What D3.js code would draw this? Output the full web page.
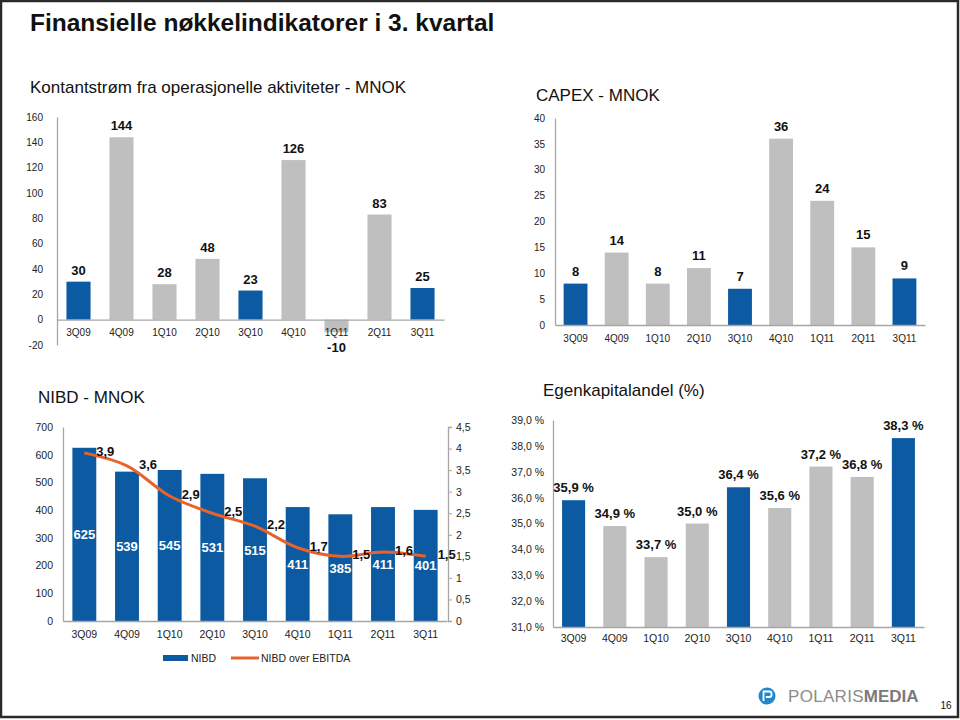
<!DOCTYPE html>
<html><head><meta charset="utf-8">
<script src="https://cdn.jsdelivr.net/npm/d3@7"></script>
<style>
html,body{margin:0;padding:0;background:#fff;}
svg{display:block;font-family:"Liberation Sans",Arial,sans-serif;}
</style></head>
<body>
<svg id="c" width="960" height="720"></svg>
<script>
// ---------- DATA ----------
const quarters = ["3Q09","4Q09","1Q10","2Q10","3Q10","4Q10","1Q11","2Q11","3Q11"];
const highlight = ["3Q09","3Q10","3Q11"];
const cashflow = [30,144,28,48,23,126,-10,83,25];
const cashflowTicks = [-20,0,20,40,60,80,100,120,140,160];
const capex = [8,14,8,11,7,36,24,15,9];
const capexTicks = [0,5,10,15,20,25,30,35,40];
const nibd = [625,539,545,531,515,411,385,411,401];
const nibdTicks = [0,100,200,300,400,500,600,700];
const nibdEbitda = [3.9,3.6,2.9,2.5,2.2,1.7,1.5,1.6,1.5];
const ratioTicks = [0,0.5,1,1.5,2,2.5,3,3.5,4,4.5];
const equityRatio = [35.9,34.9,33.7,35.0,36.4,35.6,37.2,36.8,38.3];
const equityTicks = [31,32,33,34,35,36,37,38,39];

// ---------- STYLE ----------
const BLUE = "#0B5AA2", GRAY = "#BFBFBF", AXIS = "#A6A6A6", ORANGE = "#E8622C";
const svg = d3.select("#c");
const comma = d => String(d).replace(".", ",");
const fmt1 = d => d3.format(".1f")(d).replace(".", ",");

// page frame
svg.append("rect").attr("x",1).attr("y",1).attr("width",957).attr("height",716)
  .attr("fill","none").attr("stroke","#2a2a2a").attr("stroke-width",2.5);

// main title
svg.append("text").attr("x",30).attr("y",31).attr("font-size",24.5).attr("font-weight","bold")
  .attr("fill","#111").text("Finansielle nøkkelindikatorer i 3. kvartal");

function title(x, y, t, size) {
  svg.append("text").attr("x",x).attr("y",y).attr("font-size",size||17).attr("fill","#111").text(t);
}
title(30, 93, "Kontantstrøm fra operasjonelle aktiviteter - MNOK", 17);
title(536, 101, "CAPEX - MNOK", 17);
title(38, 403, "NIBD - MNOK", 17);
title(543, 396, "Egenkapitalandel (%)", 17);

function barChart(o) {
  const g = svg.append("g");
  const x = d3.scaleBand().domain(quarters).range([o.x0, o.x1])
    .paddingInner(o.pad).paddingOuter(o.pad/2);
  const y = d3.scaleLinear().domain(o.domain).range([o.yb, o.yt]);
  const base = y(o.base);
  const color = o.color || ((d,i)=>highlight.includes(quarters[i])?BLUE:GRAY);
  // y axis
  const ya = d3.axisLeft(y).tickValues(o.ticks).tickSize(0).tickPadding(o.tickPad).tickFormat(o.tickFmt);
  const yg = g.append("g").attr("transform",`translate(${o.x0},0)`).call(ya);
  yg.select(".domain").attr("stroke",AXIS).attr("stroke-width",1.3);
  yg.selectAll("text").attr("font-size",o.tickSize).attr("fill","#222").attr("font-family","Liberation Sans, Arial");
  // bars
  g.selectAll("rect.bar").data(o.values).join("rect").attr("class","bar")
    .attr("x",(d,i)=>x(quarters[i])).attr("width",x.bandwidth())
    .attr("y",d=>Math.min(y(d),base)).attr("height",d=>Math.abs(y(d)-base))
    .attr("fill",color);
  // x axis
  const xa = d3.axisBottom(x).tickSize(0).tickPadding(0);
  const xg = g.append("g").attr("transform",`translate(0,${base})`).call(xa);
  xg.select(".domain").attr("stroke",AXIS).attr("stroke-width",1.3);
  xg.selectAll("text").attr("dy",null).attr("y",o.catDy).attr("font-size",o.catSize).attr("fill","#222")
    .attr("font-family","Liberation Sans, Arial");
  // labels
  if (o.labels) {
    g.selectAll("text.val").data(o.values).join("text").attr("class","val")
      .attr("x",(d,i)=>x(quarters[i])+x.bandwidth()/2)
      .attr("y",d=> d>=o.base ? y(d)-o.labOff : y(d)+20)
      .attr("text-anchor","middle").attr("font-size",13).attr("font-weight","bold").attr("fill","#111")
      .text(o.labFmt);
  }
  return {g,x,y,base};
}

// Chart 1: cash flow
barChart({x0:57,x1:444,yt:117,yb:345,domain:[-20,160],base:0,values:cashflow,ticks:cashflowTicks,
  pad:0.44,tickPad:14,tickFmt:d=>d,tickSize:10,catDy:16,catSize:10,labels:true,labOff:7,labFmt:d=>d});

// Chart 2: capex
barChart({x0:555,x1:925,yt:118,yb:325,domain:[0,40],base:0,values:capex,ticks:capexTicks,
  pad:0.42,tickPad:10,tickFmt:d=>d,tickSize:10,catDy:17,catSize:10,labels:true,labOff:8,labFmt:d=>d});

// Chart 4: equity ratio
barChart({x0:553,x1:924,yt:420,yb:627,domain:[31,39],base:31,values:equityRatio,ticks:equityTicks,
  pad:0.44,tickPad:9,tickFmt:d=>fmt1(d)+" %",tickSize:10.5,catDy:15,catSize:10.5,labels:true,labOff:8,
  labFmt:d=>fmt1(d)+" %"});

// Chart 3: NIBD with secondary axis
const c3 = barChart({x0:63,x1:447,yt:427,yb:621,domain:[0,700],base:0,values:nibd,ticks:nibdTicks,
  pad:0.44,tickPad:10,tickFmt:d=>d,tickSize:10.5,catDy:17,catSize:10.5,labels:false,color:BLUE});
// white labels inside bars
c3.g.selectAll("text.inbar").data(nibd).join("text").attr("class","inbar")
  .attr("x",(d,i)=>c3.x(quarters[i])+c3.x.bandwidth()/2)
  .attr("y",d=>(c3.y(d)+c3.base)/2+5)
  .attr("text-anchor","middle").attr("font-size",13).attr("font-weight","bold").attr("fill","#fff")
  .text(d=>d);
const y2 = d3.scaleLinear().domain([0,4.5]).range([621,427]);
const ra = d3.axisRight(y2).tickValues(ratioTicks).tickSize(4).tickPadding(4).tickFormat(comma);
const rg = svg.append("g").attr("transform","translate(448,0)").call(ra);
rg.select(".domain").attr("stroke",AXIS).attr("stroke-width",1.3);
rg.selectAll(".tick line").attr("stroke",AXIS);
rg.selectAll("text").attr("font-size",10.5).attr("fill","#222").attr("font-family","Liberation Sans, Arial");
const cx = (i)=>c3.x(quarters[i])+c3.x.bandwidth()/2;
const line = d3.line().x((d,i)=>cx(i)).y(d=>y2(d)).curve(d3.curveCatmullRom.alpha(0.5));
svg.append("path").datum(nibdEbitda).attr("d",line).attr("fill","none")
  .attr("stroke",ORANGE).attr("stroke-width",3);
svg.selectAll("text.rat").data(nibdEbitda).join("text").attr("class","rat")
  .attr("x",(d,i)=>cx(i)+21).attr("y",d=>y2(d)+3)
  .attr("text-anchor","middle").attr("font-size",13).attr("font-weight","bold").attr("fill","#111")
  .text(comma);

// legend
const lg = svg.append("g");
lg.append("rect").attr("x",163).attr("y",655).attr("width",25).attr("height",6).attr("fill",BLUE);
lg.append("text").attr("x",191).attr("y",662).attr("font-size",10.5).attr("fill","#222").text("NIBD");
lg.append("line").attr("x1",231).attr("x2",259).attr("y1",658).attr("y2",658).attr("stroke",ORANGE).attr("stroke-width",3);
lg.append("text").attr("x",261).attr("y",662).attr("font-size",10.5).attr("fill","#222").text("NIBD over EBITDA");

// logo
const logo = svg.append("g");
logo.append("circle").attr("cx",767).attr("cy",696).attr("r",8.5).attr("fill","#1E88C8");
logo.append("path").attr("d","M763.5,701 V691.5 H769.5 Q771.5,691.5 771.5,693.5 V695 Q771.5,697 769.5,697 H765.8")
  .attr("fill","none").attr("stroke","#fff").attr("stroke-width",1.8);
logo.append("text").attr("x",788).attr("y",702).attr("font-size",17).attr("fill","#8c8c8c")
  .attr("letter-spacing",0.3).text("POLARIS")
  .append("tspan").attr("font-weight","bold").attr("fill","#7a7a7a").attr("letter-spacing",0).text("MEDIA");
svg.append("text").attr("x",946).attr("y",709).attr("text-anchor","middle").attr("font-size",10).attr("fill","#111").text("16");
</script>
</body></html>
